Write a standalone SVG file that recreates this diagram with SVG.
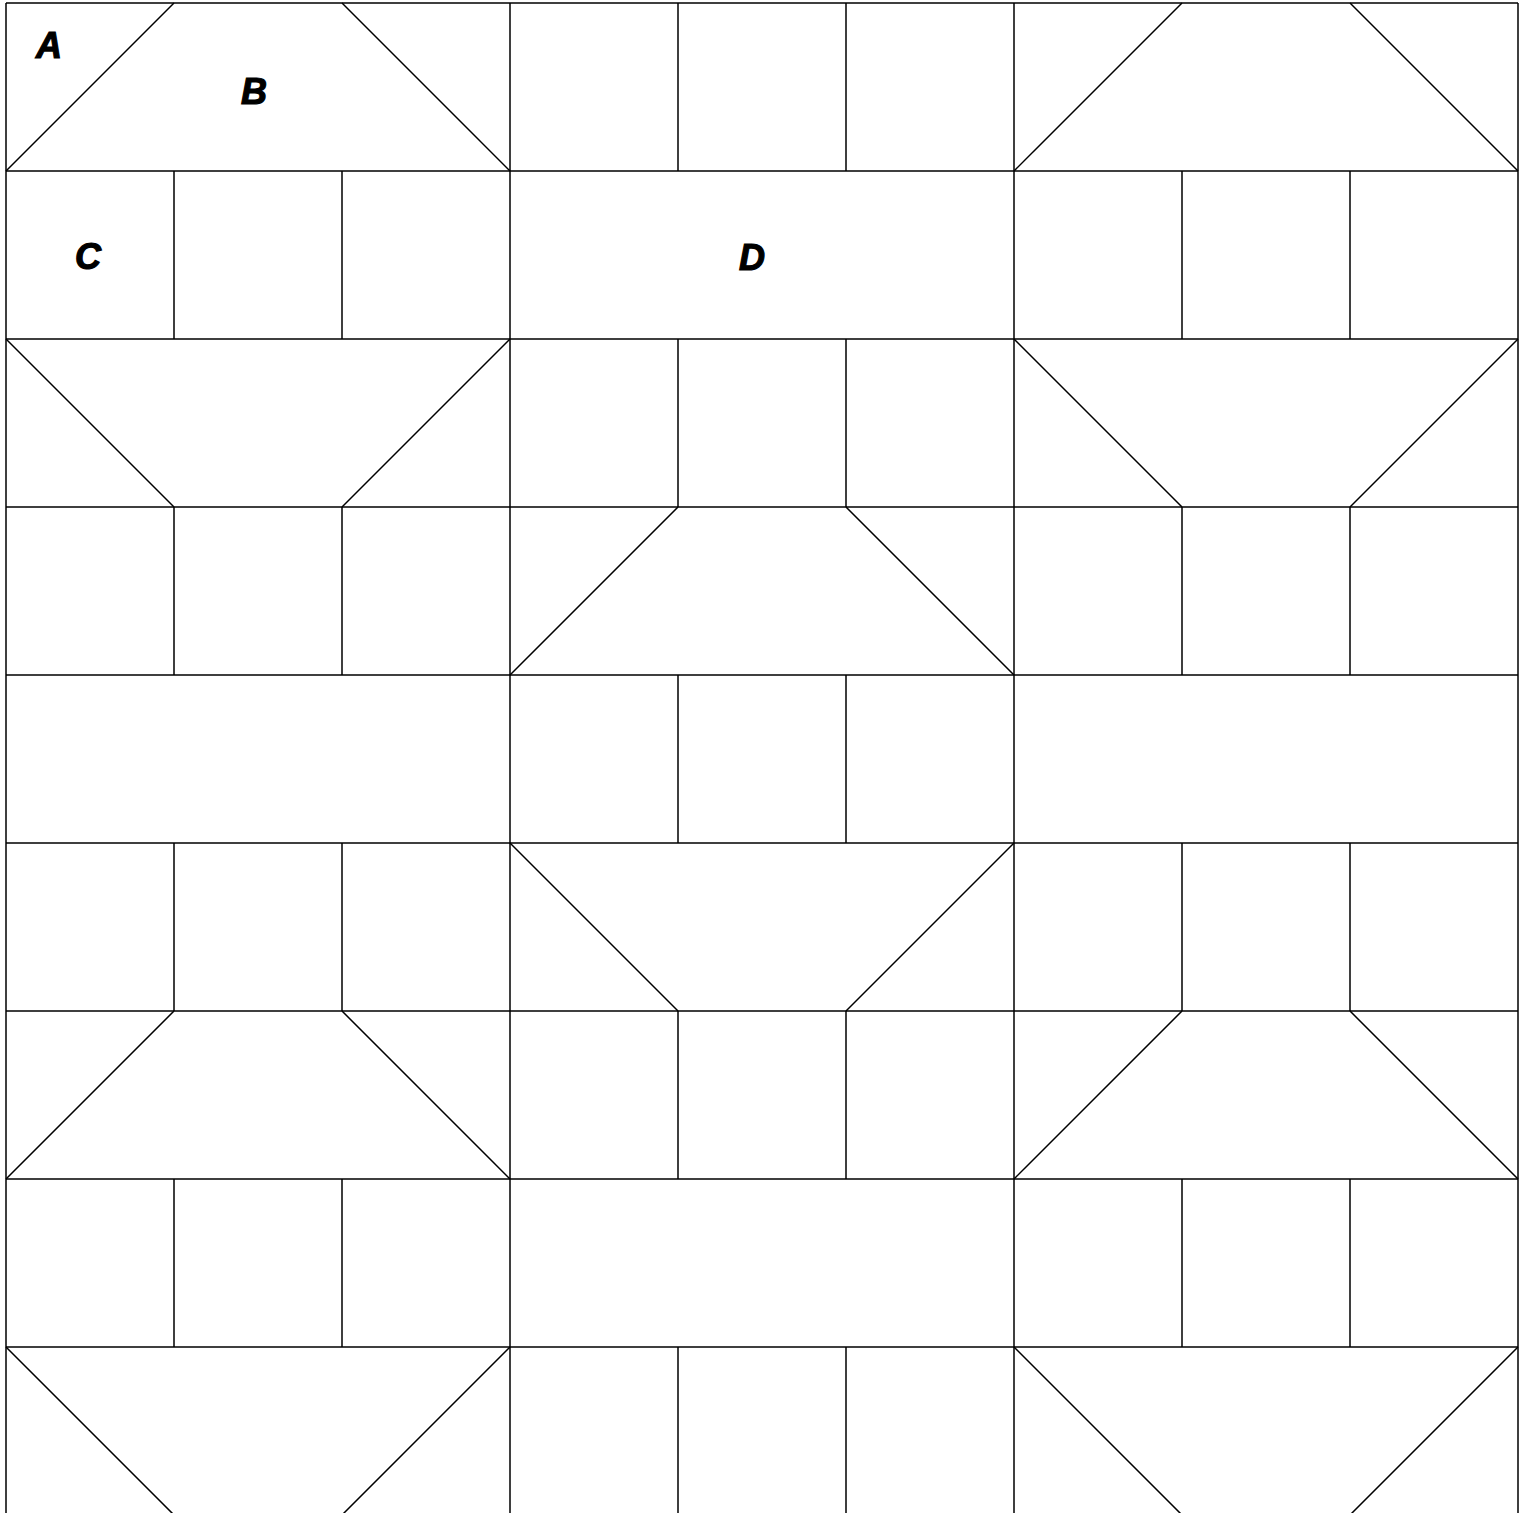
<svg xmlns="http://www.w3.org/2000/svg" width="1522" height="1513" viewBox="0 0 1522 1513">
<style>
.l{stroke:#000;stroke-width:1.5;fill:none}
.t{font-family:"Liberation Sans",Arial,sans-serif;font-weight:bold;font-style:italic;font-size:36px;fill:#000;stroke:#000;stroke-width:1.2}
</style>
<rect width="1522" height="1513" fill="#fff"/>
<g id="grid" class="l">
<path d="M6,3H1518M6,171H1518M6,339H1518M6,507H1518M6,675H1518M6,843H1518M6,1011H1518M6,1179H1518M6,1347H1518"/>
<path d="M6,3V1515M510,3V1515M1014,3V1515M1518,3V1515"/>
</g>
<g id="squares" class="l">
<path d="M678,3V171M846,3V171"/>
<path d="M174,171V339M342,171V339M1182,171V339M1350,171V339"/>
<path d="M678,339V507M846,339V507"/>
<path d="M174,507V675M342,507V675M1182,507V675M1350,507V675"/>
<path d="M678,675V843M846,675V843"/>
<path d="M174,843V1011M342,843V1011M1182,843V1011M1350,843V1011"/>
<path d="M678,1011V1179M846,1011V1179"/>
<path d="M174,1179V1347M342,1179V1347M1182,1179V1347M1350,1179V1347"/>
<path d="M678,1347V1515M846,1347V1515"/>
</g>
<g id="diagonals" class="l">
<path d="M6,171L174,3M342,3L510,171M1014,171L1182,3M1350,3L1518,171"/>
<path d="M6,339L174,507M510,339L342,507M1014,339L1182,507M1518,339L1350,507"/>
<path d="M510,675L678,507M846,507L1014,675"/>
<path d="M510,843L678,1011M1014,843L846,1011"/>
<path d="M6,1179L174,1011M342,1011L510,1179M1014,1179L1182,1011M1350,1011L1518,1179"/>
<path d="M6,1347L174,1515M510,1347L342,1515M1014,1347L1182,1515M1518,1347L1350,1515"/>
</g>
<g id="labels">
<text class="t" x="36" y="58">A</text>
<text class="t" x="241" y="104">B</text>
<text class="t" x="75" y="269">C</text>
<text class="t" x="739" y="270">D</text>
</g>
</svg>
